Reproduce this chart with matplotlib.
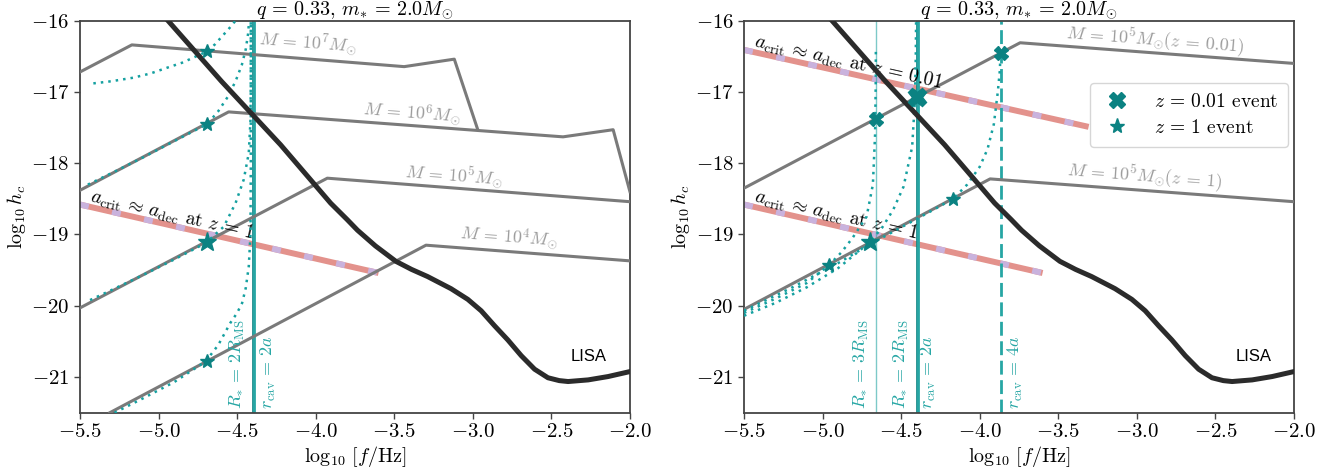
import numpy as np
import matplotlib.pyplot as plt

plt.rcParams["font.family"] = "serif"
plt.rcParams["font.serif"] = ["cmr10"]
plt.rcParams["mathtext.fontset"] = "cm"
plt.rcParams["axes.formatter.use_mathtext"] = True
plt.rcParams["axes.edgecolor"] = "#444444"
plt.rcParams["xtick.color"] = "#444444"
plt.rcParams["ytick.color"] = "#444444"
plt.rcParams["xtick.labelcolor"] = "black"
plt.rcParams["ytick.labelcolor"] = "black"

# LISA sensitivity curve (log10 f, log10 hc)
lisa_f = [-4.94, -4.60, -4.224, -3.905, -3.80, -3.734, -3.62, -3.49, -3.39, -3.288,
          -3.139, -3.032, -2.947, -2.862, -2.777, -2.692, -2.607, -2.522, -2.45, -2.394,
          -2.266, -2.139, -2.00]
lisa_h = [-16.00, -16.85, -17.74, -18.56, -18.79, -18.94, -19.16, -19.376, -19.49, -19.59,
          -19.76, -19.91, -20.07, -20.28, -20.48, -20.70, -20.89, -21.01, -21.05, -21.063,
          -21.04, -20.993, -20.923]

# left panel: binary tracks for several masses (z = 1)
m7_f = [-5.5, -5.17, -3.437, -3.118, -2.97]
m7_h = [-16.72, -16.34, -16.645, -16.54, -17.52]
m6_f = [-5.5, -4.554, -2.426, -2.107, -2.0]
m6_h = [-18.38, -17.28, -17.63, -17.53, -18.40]
m5_f = [-5.5, -3.926, -2.0]
m5_h = [-20.03, -18.21, -18.54]
m4_f = [-5.31, -3.298, -2.0]
m4_h = [-21.5, -19.15, -19.37]

# left panel: stellar tracks (dotted)
trA_f = [-5.415, -5.30, -5.16, -5.05, -4.945, -4.85, -4.78, -4.69, -4.64, -4.60, -4.555, -4.51]
trA_h = [-16.88, -16.85, -16.80, -16.74, -16.66, -16.59, -16.52, -16.43, -16.33, -16.23, -16.12, -16.0]
trB_f = [-5.45, -5.30, -5.10, -4.90, -4.69, -4.62, -4.56, -4.51, -4.47, -4.445, -4.43, -4.424]
trB_h = [-18.30, -18.14, -17.92, -17.69, -17.45, -17.27, -17.07, -16.85, -16.62, -16.40, -16.18, -16.0]
trC_f = [-5.436, -5.30, -5.10, -4.90, -4.70, -4.585, -4.51, -4.458, -4.426, -4.415, -4.413, -4.413]
trC_h = [-19.92, -19.78, -19.57, -19.35, -19.12, -18.89, -18.56, -18.23, -17.86, -17.40, -16.80, -16.0]
trD_f = [-5.28, -5.10, -4.90, -4.70, -4.62, -4.543, -4.50, -4.468, -4.445, -4.426, -4.415, -4.413, -4.413]
trD_h = [-21.50, -21.30, -21.07, -20.78, -20.55, -20.24, -20.10, -19.96, -19.75, -19.45, -19.0, -18.0, -16.0]

left_star_f = [-4.69, -4.69, -4.69]
left_star_h = [-16.43, -17.45, -20.78]
left_bigstar = (-4.69, -19.10)

# a_crit ~ a_dec lines
acrit1_f = [-5.5, -3.60]
acrit1_h = [-18.58, -19.54]
acrit001_f = [-5.5, -3.307]
acrit001_h = [-16.41, -17.49]

# right panel: M = 1e5 at two redshifts
z001_f = [-5.5, -3.743, -2.0]
z001_h = [-18.35, -16.31, -16.60]
z1_f = [-5.5, -3.934, -2.0]
z1_h = [-20.05, -18.22, -18.54]

trE_f = [-5.5, -5.3, -5.1, -4.96, -4.88, -4.81, -4.72, -4.68, -4.666, -4.662, -4.661]
trE_h = [-20.10, -19.90, -19.68, -19.43, -19.25, -19.05, -18.75, -18.30, -17.60, -16.90, -16.38]
trF_f = [-5.5, -5.3, -5.1, -4.9, -4.70, -4.62, -4.55, -4.485, -4.43, -4.412, -4.407, -4.405]
trF_h = [-20.14, -19.96, -19.74, -19.47, -19.11, -18.90, -18.65, -18.33, -17.77, -17.10, -16.50, -16.0]
trG_f = [-5.5, -5.2, -4.9, -4.70, -4.50, -4.30, -4.17, -4.08, -4.00, -3.95, -3.91, -3.885, -3.872, -3.868]
trG_h = [-20.07, -19.75, -19.40, -19.14, -18.90, -18.66, -18.50, -18.30, -18.05, -17.80, -17.45, -17.00, -16.70, -16.46]

right_x_f = [-4.66, -3.866]
right_x_h = [-17.38, -16.46]
right_bigx = (-4.40, -17.07)
right_star_f = [-4.96, -4.17]
right_star_h = [-19.43, -18.50]
right_bigstar = (-4.70, -19.11)

# vertical lines
rstar3_f = -4.66
rstar2_f = -4.40
rcav2_f = -4.394
rcav4_f = -3.866

gray = "#7a7a7a"
gray_txt = "#9c9c9c"
vcol = "#26a6a4"
dcol = "#15a0a0"
mcol = "#0b8282"
salmon = "#e3928c"
lavender = "#c9b2dd"


def acrit_line(ax, f, h, label, dy):
    ax.plot(f, h, color=salmon, lw=4.3, solid_capstyle="butt", zorder=2)
    ax.plot(f, h, color=lavender, lw=4.3, dashes=(1.5, 4.0), dash_capstyle="butt", zorder=2)
    slope = (h[1] - h[0]) / (f[1] - f[0])
    x0 = f[0] + 0.06
    ax.text(x0, h[0] + slope * 0.06 + dy, label, fontsize=14, rotation=np.degrees(np.arctan(slope)),
            transform_rotates_text=True, rotation_mode="anchor", ha="left", va="baseline", zorder=3)


def gray_label(ax, x, y, text):
    ax.text(x, y, text, color=gray_txt, fontsize=13, ha="center", va="center",
            rotation=np.degrees(np.arctan(-0.17)), transform_rotates_text=True, rotation_mode="anchor")


def vlabel(ax, x, text):
    ax.text(x, -21.45, text, color=vcol, fontsize=13, rotation=90, ha="center", va="bottom")


def setup(ax):
    ax.set_xlim(-5.5, -2.0)
    ax.set_ylim(-21.5, -16.0)
    ax.set_xticks([-5.5, -5.0, -4.5, -4.0, -3.5, -3.0, -2.5, -2.0])
    ax.set_yticks([-21, -20, -19, -18, -17, -16])
    ax.tick_params(labelsize=15, width=1.0, length=4)
    ax.set_xlabel(r"$\log_{10}\,[f/{\rm Hz}]$", fontsize=14.5, labelpad=2)
    ax.set_ylabel(r"$\log_{10} h_c$", fontsize=14.5, labelpad=2)
    ax.set_title(r"$q\,=\,0.33$, $m_{*}\,=\,2.0M_{\odot}$", fontsize=14.5, pad=2)
    for s in ax.spines.values():
        s.set_linewidth(1.3)
    ax.plot(lisa_f, lisa_h, color="#2b2b2b", lw=3.6, zorder=4)
    ax.text(-2.26, -20.71, "LISA", fontsize=12, family="Liberation Sans", ha="center", va="center")


fig = plt.figure(figsize=(13.31, 4.75), dpi=100)
ax1 = fig.add_axes([0.0601, 0.1312, 0.4132, 0.8253])
ax2 = fig.add_axes([0.559, 0.1312, 0.4132, 0.8253])

# ---- left panel ----
setup(ax1)
for f, h in [(m7_f, m7_h), (m6_f, m6_h), (m5_f, m5_h), (m4_f, m4_h)]:
    ax1.plot(f, h, color=gray, lw=2.2, zorder=3)
gray_label(ax1, -4.05, -16.30, r"$M\,=\,10^7M_{\odot}$")
gray_label(ax1, -3.39, -17.30, r"$M\,=\,10^6M_{\odot}$")
gray_label(ax1, -3.12, -18.16, r"$M\,=\,10^5M_{\odot}$")
gray_label(ax1, -2.77, -19.04, r"$M\,=\,10^4M_{\odot}$")

acrit_line(ax1, acrit1_f, acrit1_h, r"$a_{\rm crit}\,\approx\,a_{\rm dec}$ at $z\,=\,1$", 0.07)

ax1.axvline(rstar2_f, color=mcol, lw=1.2, zorder=2)
ax1.axvline(rcav2_f, color=vcol, lw=2.0, zorder=2)
for f, h in [(trA_f, trA_h), (trB_f, trB_h), (trC_f, trC_h), (trD_f, trD_h)]:
    ax1.plot(f, h, color=dcol, lw=1.8, ls=(0, (1, 2)), zorder=3)
ax1.plot(left_star_f, left_star_h, "*", color=mcol, ms=10, ls="none", zorder=5)
ax1.plot(*left_bigstar, "*", color=mcol, ms=14, ls="none", zorder=5)

vlabel(ax1, -4.50, r"$R_{*}\,=\,2R_{\rm MS}$")
vlabel(ax1, -4.30, r"$r_{\rm cav}\,=\,2a$")

# ---- right panel ----
setup(ax2)
ax2.plot(z001_f, z001_h, color=gray, lw=2.2, zorder=3)
ax2.plot(z1_f, z1_h, color=gray, lw=2.2, zorder=3)
gray_label(ax2, -2.884, -16.27, r"$M\,=\,10^5M_{\odot}(z\,=\,0.01)$")
gray_label(ax2, -2.954, -18.19, r"$M\,=\,10^5M_{\odot}(z\,=\,1)$")

acrit_line(ax2, acrit001_f, acrit001_h, r"$a_{\rm crit}\,\approx\,a_{\rm dec}$ at $z\,=\,0.01$", 0.07)
acrit_line(ax2, acrit1_f, acrit1_h, r"$a_{\rm crit}\,\approx\,a_{\rm dec}$ at $z\,=\,1$", 0.07)

ax2.axvline(rstar3_f, color=vcol, lw=1.0, alpha=0.6, zorder=2)
ax2.axvline(rstar2_f, color=mcol, lw=1.2, zorder=2)
ax2.axvline(rcav2_f, color=vcol, lw=2.0, zorder=2)
ax2.axvline(rcav4_f, color=vcol, lw=2.0, dashes=(5, 2), zorder=2)
for f, h in [(trE_f, trE_h), (trF_f, trF_h), (trG_f, trG_h)]:
    ax2.plot(f, h, color=dcol, lw=1.8, ls=(0, (1, 2)), zorder=3)

ax2.plot(right_x_f, right_x_h, "X", color=mcol, ms=10, ls="none", zorder=5)
ax2.plot(*right_bigx, "X", color=mcol, ms=13, ls="none", zorder=5)
ax2.plot(right_star_f, right_star_h, "*", color=mcol, ms=10, ls="none", zorder=5)
ax2.plot(*right_bigstar, "*", color=mcol, ms=14, ls="none", zorder=5)

vlabel(ax2, -4.75, r"$R_{*}\,=\,3R_{\rm MS}$")
vlabel(ax2, -4.50, r"$R_{*}\,=\,2R_{\rm MS}$")
vlabel(ax2, -4.326, r"$r_{\rm cav}\,=\,2a$")
vlabel(ax2, -3.775, r"$r_{\rm cav}\,=\,4a$")

hx, = ax2.plot([], [], "X", color=mcol, ms=11, ls="none", label=r"$z\,=\,0.01$ event")
hs, = ax2.plot([], [], "*", color=mcol, ms=11, ls="none", label=r"$z\,=\,1$ event")
ax2.legend(handles=[hx, hs], loc="upper right", bbox_to_anchor=(1.0, 0.855), fontsize=14,
           handletextpad=1.0, handlelength=1.8, borderpad=0.5, labelspacing=0.4, borderaxespad=0.3)

fig.savefig("out.png", dpi=100)
